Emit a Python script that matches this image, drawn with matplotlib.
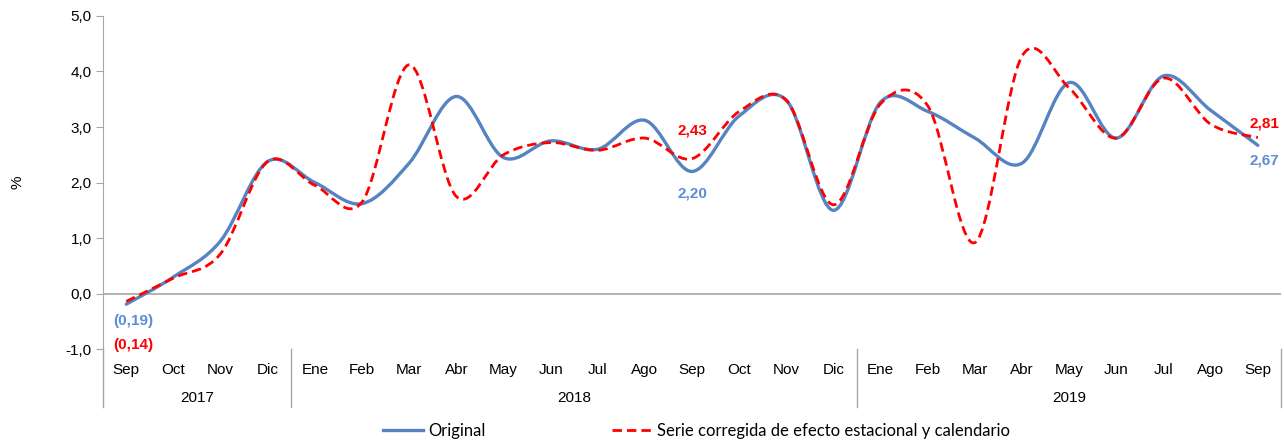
import numpy as np
import matplotlib.pyplot as plt
from matplotlib.path import Path
from matplotlib.patches import PathPatch
from matplotlib.lines import Line2D
from matplotlib.ticker import FuncFormatter

months = ["Sep", "Oct", "Nov", "Dic",
          "Ene", "Feb", "Mar", "Abr", "May", "Jun", "Jul", "Ago", "Sep", "Oct", "Nov", "Dic",
          "Ene", "Feb", "Mar", "Abr", "May", "Jun", "Jul", "Ago", "Sep"]
years = ["2017", "2018", "2019"]
year_spans = [(0, 3), (4, 15), (16, 24)]

original = [-0.19, 0.30, 0.95, 2.38,
            2.00, 1.62, 2.35, 3.55, 2.45, 2.75, 2.60, 3.12, 2.20, 3.20, 3.48, 1.50,
            3.45, 3.28, 2.80, 2.35, 3.80, 2.80, 3.92, 3.30, 2.67]
corregida = [-0.14, 0.28, 0.72, 2.38,
             1.95, 1.65, 4.12, 1.75, 2.50, 2.72, 2.58, 2.80, 2.43, 3.28, 3.48, 1.60,
             3.42, 3.38, 0.92, 4.28, 3.70, 2.80, 3.88, 3.05, 2.81]

BLUE = "#5683C1"
BLUE_TXT = "#5B8ED6"
RED = "#FF0000"
GRAY = "#A6A6A6"
DASH = (0, (3.4, 1.8))


def smooth_path(x, y):
    # Excel-like smoothed line: cubic Bezier segments through the data points
    pts = np.column_stack([x, y]).astype(float)
    n = len(pts)
    verts = [pts[0]]
    codes = [Path.MOVETO]
    for i in range(n - 1):
        p0 = pts[i - 1] if i > 0 else pts[i]
        p1 = pts[i]
        p2 = pts[i + 1]
        p3 = pts[i + 2] if i + 2 < n else pts[i + 1]
        c1 = p1 + (p2 - p0) / 6.0
        c2 = p2 - (p3 - p1) / 6.0
        verts += [c1, c2, p2]
        codes += [Path.CURVE4] * 3
    return Path(verts, codes)


plt.rcParams['font.family'] = ['Liberation Sans', 'DejaVu Sans']

fig = plt.figure(figsize=(12.84, 4.42), dpi=100)
ax = fig.add_axes([0.080, 0.21, 0.918, 0.754])

x = np.arange(len(months))

ax.add_patch(PathPatch(smooth_path(x, original), fill=False, edgecolor=BLUE,
                       lw=2.4, capstyle='round', joinstyle='round', zorder=3))
ax.add_patch(PathPatch(smooth_path(x, corregida), fill=False, edgecolor=RED,
                       lw=2.0, linestyle=DASH, zorder=4))

ax.set_xlim(-0.5, len(months) - 0.5)
ax.set_ylim(-1, 5)
ax.set_yticks(np.arange(-1, 6, 1))
ax.yaxis.set_major_formatter(FuncFormatter(lambda v, p: f"{v:.1f}".replace(".", ",")))
ax.tick_params(axis='y', length=5, color=GRAY, labelsize=11, pad=3)
ax.set_ylabel("%", fontsize=11)
ax.yaxis.set_label_coords(-0.066, 0.5)

ax.set_xticks(x)
ax.set_xticklabels(months, fontsize=11)
ax.tick_params(axis='x', length=0, pad=10)

for s in ["top", "right", "bottom"]:
    ax.spines[s].set_visible(False)
ax.spines["left"].set_color(GRAY)
ax.axhline(0, color=GRAY, lw=1.2, zorder=1)

# category separators and year labels
trans = ax.get_xaxis_transform()
for xs in [-0.5, 3.5, 15.5, 24.5]:
    ax.plot([xs, xs], [0, -0.172], transform=trans, color=GRAY, lw=1, clip_on=False)
for yr, (a, b) in zip(years, year_spans):
    ax.text((a + b) / 2, -0.145, yr, transform=trans, ha='center', va='center', fontsize=11)

# data labels
lab = dict(fontsize=11, fontweight='bold', ha='center', va='center')
ax.text(0.14, -0.5, "(0,19)", color=BLUE_TXT, **lab)
ax.text(0.14, -0.93, "(0,14)", color=RED, **lab)
ax.text(12.0, 1.8, "2,20", color=BLUE_TXT, **lab)
ax.text(12.0, 2.93, "2,43", color=RED, **lab)
ax.text(24.14, 3.06, "2,81", color=RED, **lab)
ax.text(24.14, 2.39, "2,67", color=BLUE_TXT, **lab)

handles = [Line2D([], [], color=BLUE, lw=2.4),
           Line2D([], [], color=RED, lw=2.0, linestyle=DASH)]
fig.legend(handles, ["Original", "Serie corregida de efecto estacional y calendario"],
           loc='center', bbox_to_anchor=(0.5425, 0.025), ncol=2, frameon=False,
           handlelength=2.4, columnspacing=7.6, handletextpad=0.3,
           prop={'family': 'Lato', 'size': 12})

fig.savefig("out.png", dpi=100)
